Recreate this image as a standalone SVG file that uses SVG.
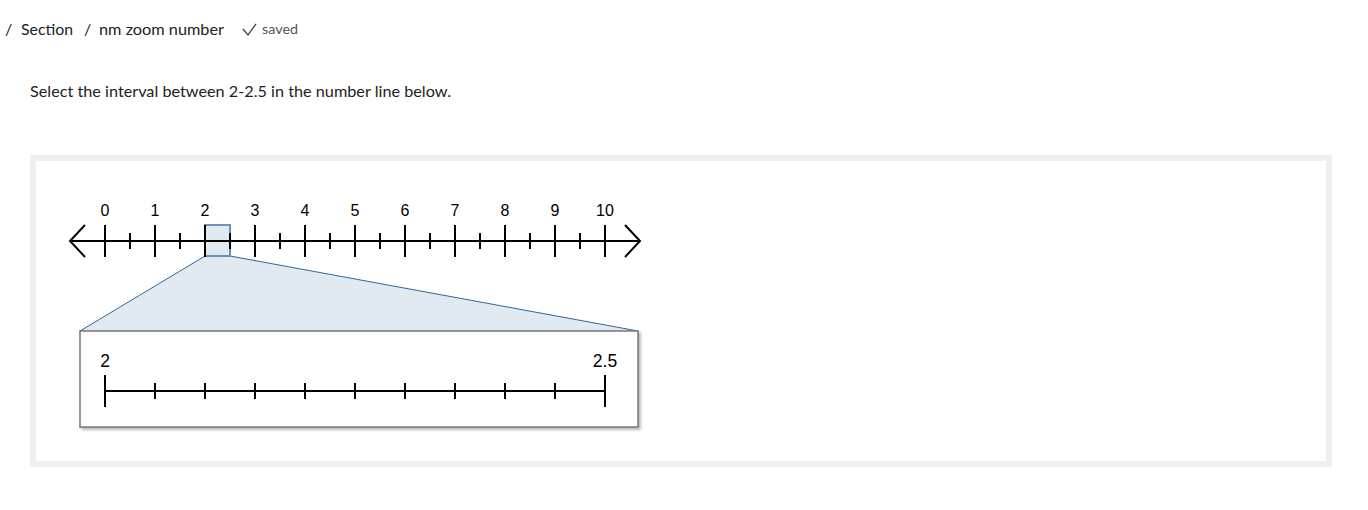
<svg xmlns="http://www.w3.org/2000/svg" width="1368" height="510" viewBox="0 0 1368 510">
<style>
.hdr{font-family:Lato,"Noto Sans",sans-serif;font-size:16px;fill:#222}
.lbl{font-family:"Liberation Sans",Arial,sans-serif;font-size:16px;fill:#000;text-anchor:middle}
.zl{font-size:17.5px}
.ax{stroke:#000;stroke-width:2;fill:none}
</style>
<defs>
<filter id="sh" x="-5%" y="-10%" width="110%" height="125%"><feDropShadow dx="2" dy="2" stdDeviation="1.5" flood-color="#000" flood-opacity="0.3"/></filter>
</defs>
<rect width="1368" height="510" fill="#fff"/>
<g id="header">
<text class="hdr" x="5" y="35">/</text>
<text class="hdr" x="21" y="35" textLength="52" lengthAdjust="spacingAndGlyphs">Section</text>
<text class="hdr" x="84" y="35">/</text>
<text class="hdr" x="99" y="35" textLength="125" lengthAdjust="spacingAndGlyphs">nm zoom number</text>
<path d="M243 29 L248 35 L256 24" stroke="#444" stroke-width="1.3" fill="none"/>
<text class="hdr" x="262" y="34" textLength="36" lengthAdjust="spacingAndGlyphs" style="font-size:13px;fill:#555">saved</text>
</g>
<g id="prompt">
<text class="hdr" x="30" y="97" textLength="421" lengthAdjust="spacingAndGlyphs">Select the interval between 2-2.5 in the number line below.</text>
</g>
<rect id="frame" x="33" y="158" width="1296" height="306" fill="#fff" stroke="#f0efed" stroke-width="6"/>
<g id="zoom-connector">
<polygon points="205,256 230,256 638,331 80,331" fill="#e1e9f1" stroke="none"/>
<line x1="205" y1="256" x2="80" y2="331" stroke="#2f6699" stroke-width="1"/>
<line x1="230" y1="256" x2="638" y2="331" stroke="#2f6699" stroke-width="1"/>
</g>
<g id="main-number-line">
<rect x="205" y="225" width="25" height="31" fill="#e1e9f1" stroke="#6b93b8" stroke-width="2"/>
<line class="ax" x1="71" y1="241" x2="639" y2="241"/>
<path class="ax" d="M85 225 L70 241 L85 257"/>
<path class="ax" d="M625 225 L640 241 L625 257"/>
<path class="ax" d="M105 225V257M155 225V257M205 225V257M255 225V257M305 225V257M355 225V257M405 225V257M455 225V257M505 225V257M555 225V257M605 225V257"/>
<path class="ax" d="M130 233V249M180 233V249M230 233V249M280 233V249M330 233V249M380 233V249M430 233V249M480 233V249M530 233V249M580 233V249"/>
<text class="lbl" x="105" y="216">0</text>
<text class="lbl" x="155" y="216">1</text>
<text class="lbl" x="205" y="216">2</text>
<text class="lbl" x="255" y="216">3</text>
<text class="lbl" x="305" y="216">4</text>
<text class="lbl" x="355" y="216">5</text>
<text class="lbl" x="405" y="216">6</text>
<text class="lbl" x="455" y="216">7</text>
<text class="lbl" x="505" y="216">8</text>
<text class="lbl" x="555" y="216">9</text>
<text class="lbl" x="605" y="216">10</text>
</g>
<g id="zoom-box">
<rect x="80" y="331" width="558" height="96" fill="#fff" stroke="#777" stroke-width="1.5" filter="url(#sh)"/>
<line class="ax" x1="105" y1="391" x2="605" y2="391"/>
<path class="ax" d="M105 375V407M605 375V407"/>
<path class="ax" d="M155 383V399M205 383V399M255 383V399M305 383V399M355 383V399M405 383V399M455 383V399M505 383V399M555 383V399"/>
<text class="lbl zl" x="105" y="367">2</text>
<text class="lbl zl" x="605" y="367">2.5</text>
</g>
</svg>
